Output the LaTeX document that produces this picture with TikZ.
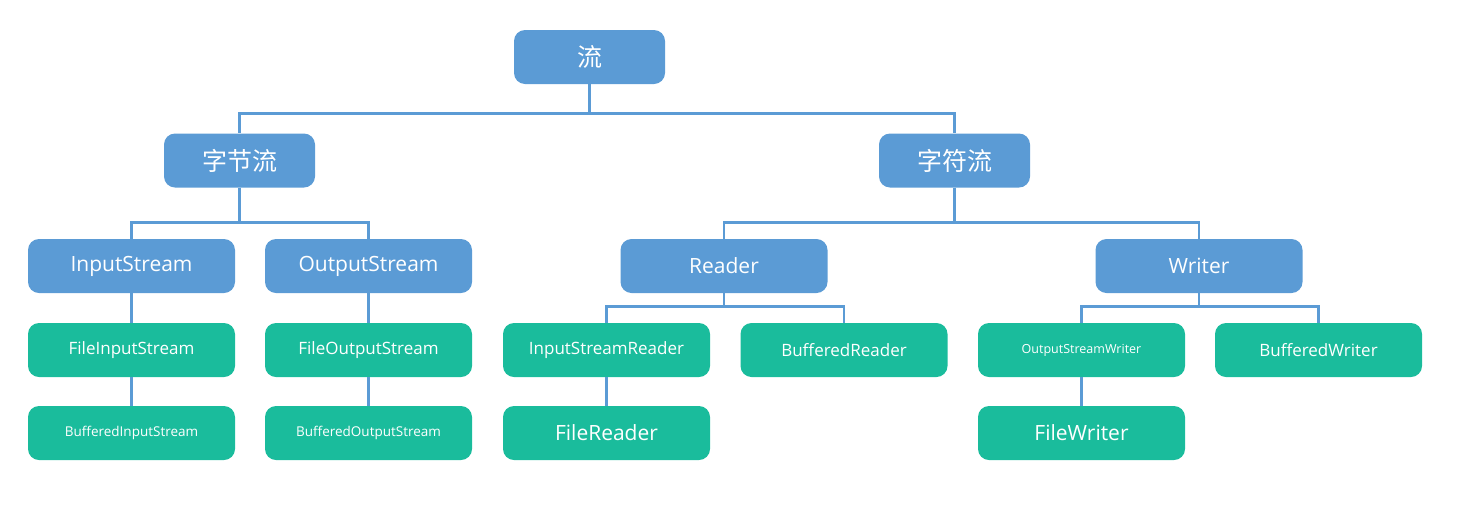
\documentclass[tikz,border=0pt]{standalone}
\usepackage{fontspec}
\setmainfont{Open Sans}
\newfontfamily\cjk{Noto Sans CJK SC}
\definecolor{bl}{HTML}{5B9BD5}
\definecolor{gr}{HTML}{1ABC9C}
\definecolor{ln}{HTML}{5B9BD5}
\begin{document}
\begin{tikzpicture}[x=1pt,y=-1pt,
 box/.style={rounded corners=11pt,text=white,inner sep=0pt,minimum height=54pt,anchor=center},
 top/.style={box,fill=bl,minimum width=151pt,font=\cjk\fontsize{25}{25}\selectfont},
 mid/.style={box,fill=bl,minimum width=207pt,font=\fontsize{21}{21}\selectfont},
 leaf/.style={box,fill=gr,minimum width=207pt},
 c/.style={draw=ln,line width=2.6pt}]
\useasboundingbox (0,0) rectangle (1459,507);
\node[top] (s) at (589.5,57) {流};
\node[top] (b) at (239.5,160.5) {字节流};
\node[top] (ch) at (954.5,160.5) {字符流};
\node[mid] (is) at (131.5,266) {InputStream};
\node[mid] (os) at (368.5,266) {OutputStream};
\node[mid] (rd) at (724,266) {Reader};
\node[mid] (wr) at (1199,266) {Writer};
\node[leaf,font=\fontsize{17}{17}\selectfont] (fis) at (131.5,350) {FileInputStream};
\node[leaf,font=\fontsize{17}{17}\selectfont] (fos) at (368.5,350) {FileOutputStream};
\node[leaf,font=\fontsize{17}{17}\selectfont] (isr) at (606.5,350) {InputStreamReader};
\node[leaf,font=\fontsize{17}{17}\selectfont] (br) at (844,350) {BufferedReader};
\node[leaf,font=\fontsize{12.5}{13}\selectfont] (osw) at (1081.5,350) {OutputStreamWriter};
\node[leaf,font=\fontsize{17}{17}\selectfont] (bw) at (1318.5,350) {BufferedWriter};
\node[leaf,font=\fontsize{13.5}{14}\selectfont] (bis) at (131.5,433) {BufferedInputStream};
\node[leaf,font=\fontsize{13.5}{14}\selectfont] (bos) at (368.5,433) {BufferedOutputStream};
\node[leaf,font=\fontsize{21}{21}\selectfont] (fr) at (606.5,433) {FileReader};
\node[leaf,font=\fontsize{21}{21}\selectfont] (fw) at (1081.5,433) {FileWriter};
\begin{scope}[on background layer/.style={}]
\draw[c] (s.south) -- ++(0,29) -| (b.north);
\draw[c] (s.south) -- ++(0,29) -| (ch.north);
\draw[c] (b.south) -- ++(0,35) -| (is.north);
\draw[c] (b.south) -- ++(0,35) -| (os.north);
\draw[c] (ch.south) -- ++(0,35) -| (rd.north);
\draw[c] (ch.south) -- ++(0,35) -| (wr.north);
\draw[c] (rd.south) -- ++(0,13) -| (isr.north);
\draw[c] (rd.south) -- ++(0,13) -| (br.north);
\draw[c] (wr.south) -- ++(0,13) -| (osw.north);
\draw[c] (wr.south) -- ++(0,13) -| (bw.north);
\draw[c] (is) -- (fis); \draw[c] (fis) -- (bis);
\draw[c] (os) -- (fos); \draw[c] (fos) -- (bos);
\draw[c] (isr) -- (fr); \draw[c] (osw) -- (fw);
\end{scope}
\end{tikzpicture}
\end{document}
